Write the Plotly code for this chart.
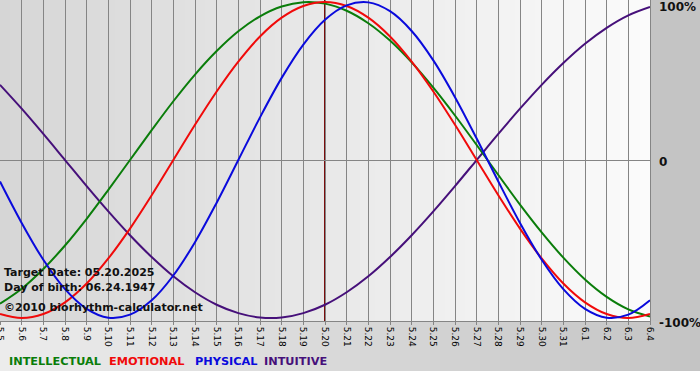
import plotly.graph_objects as go

# ---- data ----
days = ["5.5", "5.6", "5.7", "5.8", "5.9", "5.10", "5.11", "5.12", "5.13", "5.14",
        "5.15", "5.16", "5.17", "5.18", "5.19", "5.20", "5.21", "5.22", "5.23", "5.24",
        "5.25", "5.26", "5.27", "5.28", "5.29", "5.30", "5.31", "6.1", "6.2", "6.3", "6.4"]

intellectual = [-0.91, -0.815, -0.69, -0.541, -0.372, -0.189, 0.0, 0.189, 0.372, 0.541,
                0.69, 0.815, 0.91, 0.972, 0.999, 0.99, 0.945, 0.866, 0.756, 0.618,
                0.458, 0.282, 0.095, -0.095, -0.282, -0.458, -0.618, -0.756, -0.866, -0.945, -0.99]

emotional = [-0.975, -1.0, -0.975, -0.901, -0.782, -0.623, -0.434, -0.223, 0.0, 0.223,
             0.434, 0.623, 0.782, 0.901, 0.975, 1.0, 0.975, 0.901, 0.782, 0.623,
             0.434, 0.223, 0.0, -0.223, -0.434, -0.623, -0.782, -0.901, -0.975, -1.0, -0.975]

physical = [-0.136, -0.398, -0.631, -0.817, -0.942, -0.998, -0.979, -0.888, -0.731, -0.52,
            -0.27, 0.0, 0.27, 0.52, 0.731, 0.888, 0.979, 0.998, 0.942, 0.817,
            0.631, 0.398, 0.136, -0.136, -0.398, -0.631, -0.817, -0.942, -0.998, -0.979, -0.888]

intuitive = [0.476, 0.325, 0.165, 0.0, -0.165, -0.325, -0.476, -0.614, -0.736, -0.837,
             -0.916, -0.969, -0.997, -0.997, -0.969, -0.916, -0.837, -0.736, -0.614, -0.476,
             -0.325, -0.165, 0.0, 0.165, 0.325, 0.476, 0.614, 0.736, 0.837, 0.916, 0.969]

series_names = ["INTELLECTUAL", "EMOTIONAL", "PHYSICAL", "INTUITIVE"]
target_day = "5.20"
info_lines = ["Target Date: 05.20.2025", "Day of birth: 06.24.1947",
              "\u00a92010 biorhythm-calculator.net"]
y_tick_vals = [1, 0, -1]
y_tick_text = ["100%", "0", "-100%"]

# ---- styling ----
colors = {"INTELLECTUAL": "#0a7d0a", "EMOTIONAL": "#f00a0a",
          "PHYSICAL": "#0a0adc", "INTUITIVE": "#46107a"}
FONT = "DejaVu Sans"
W, H = 700, 380
ML, MR, MT, MB = 0, 50, 0, 59
PW, PH = W - ML - MR, H - MT - MB


def px_to_paper_x(px):
    return (px - ML) / PW


def px_to_paper_y(py):
    return (H - MB - py) / PH


def lerp(c1, c2, t):
    return "rgb(%d,%d,%d)" % tuple(round(a + (b - a) * t) for a, b in zip(c1, c2))


fig = go.Figure()

series = {"INTELLECTUAL": intellectual, "EMOTIONAL": emotional,
          "PHYSICAL": physical, "INTUITIVE": intuitive}
for name in ["INTUITIVE", "INTELLECTUAL", "EMOTIONAL", "PHYSICAL"]:
    fig.add_trace(go.Scatter(x=days, y=series[name], mode="lines", name=name,
                             line=dict(color=colors[name], width=2, shape="spline", smoothing=1.0),
                             hoverinfo="skip"))

shapes = []
# plot area gradient
n = 130
for k in range(n):
    shapes.append(dict(type="rect", xref="paper", yref="paper", layer="below",
                       x0=k / n, x1=(k + 1) / n + 0.002, y0=0, y1=1,
                       fillcolor=lerp((214, 214, 214), (251, 251, 251), k / (n - 1)),
                       line=dict(width=0)))
# right margin
shapes.append(dict(type="rect", xref="paper", yref="paper", layer="below",
                   x0=1, x1=W / PW, y0=0, y1=1, fillcolor="#c4c4c4", line=dict(width=0)))
# bottom band gradient
nb = 70
for k in range(nb):
    shapes.append(dict(type="rect", xref="paper", yref="paper", layer="below",
                       x0=k / nb * W / PW, x1=(k + 1) / nb * W / PW + 0.002,
                       y0=px_to_paper_y(371), y1=0,
                       fillcolor=lerp((236, 236, 236), (196, 196, 196), k / (nb - 1)),
                       line=dict(width=0)))
# target day marker (category axis -> use the category index)
target_idx = days.index(target_day)
shapes.append(dict(type="line", xref="x", yref="paper", x0=target_idx, x1=target_idx,
                   y0=0, y1=1, line=dict(color="#7a0c0c", width=2), layer="below"))

annotations = []
for line_text, py in zip(info_lines, [272, 287, 307]):
    annotations.append(dict(text=line_text, xref="paper", yref="paper",
                            x=px_to_paper_x(2), y=px_to_paper_y(py), xanchor="left",
                            yanchor="middle", showarrow=False,
                            font=dict(family=FONT, size=11, color="#111111", weight="bold")))
for name, px in zip(series_names, [7, 107, 193, 262]):
    annotations.append(dict(text=name, xref="paper", yref="paper",
                            x=px_to_paper_x(px), y=px_to_paper_y(361), xanchor="left",
                            yanchor="middle", showarrow=False,
                            font=dict(family=FONT, size=11.3, color=colors[name], weight="bold")))
for v, t, ys in zip(y_tick_vals, y_tick_text, [-5, -2, -5]):
    annotations.append(dict(text=t, xref="paper", yref="y", x=px_to_paper_x(657), y=v,
                            yshift=ys, xanchor="left", yanchor="middle", showarrow=False,
                            font=dict(family=FONT, size=12, color="#111111", weight="bold")))

fig.update_layout(
    width=W, height=H, autosize=False,
    margin=dict(l=ML, r=MR, t=MT, b=MB, pad=0, autoexpand=False),
    paper_bgcolor="#ffffff", plot_bgcolor="rgba(0,0,0,0)",
    showlegend=False,
    shapes=shapes, annotations=annotations,
    xaxis=dict(type="category", range=[0, len(days) - 1], tickangle=90, automargin=False,
               showgrid=True, gridcolor="#858585", gridwidth=1,
               ticks="outside", ticklen=3, tickcolor="#858585",
               showline=True, linecolor="#858585", linewidth=1, mirror=True,
               tickfont=dict(family=FONT, size=9, color="#000000"), zeroline=False),
    yaxis=dict(range=[-1.019, 1.013], showgrid=False, zeroline=True, automargin=False,
               zerolinecolor="#858585", zerolinewidth=1, showticklabels=False,
               showline=True, linecolor="#858585", linewidth=1, mirror=True, ticks=""),
)

fig.write_html("out.html", config={"displayModeBar": False, "staticPlot": True},
               post_script="document.body.style.margin='0';document.body.style.padding='0';")
